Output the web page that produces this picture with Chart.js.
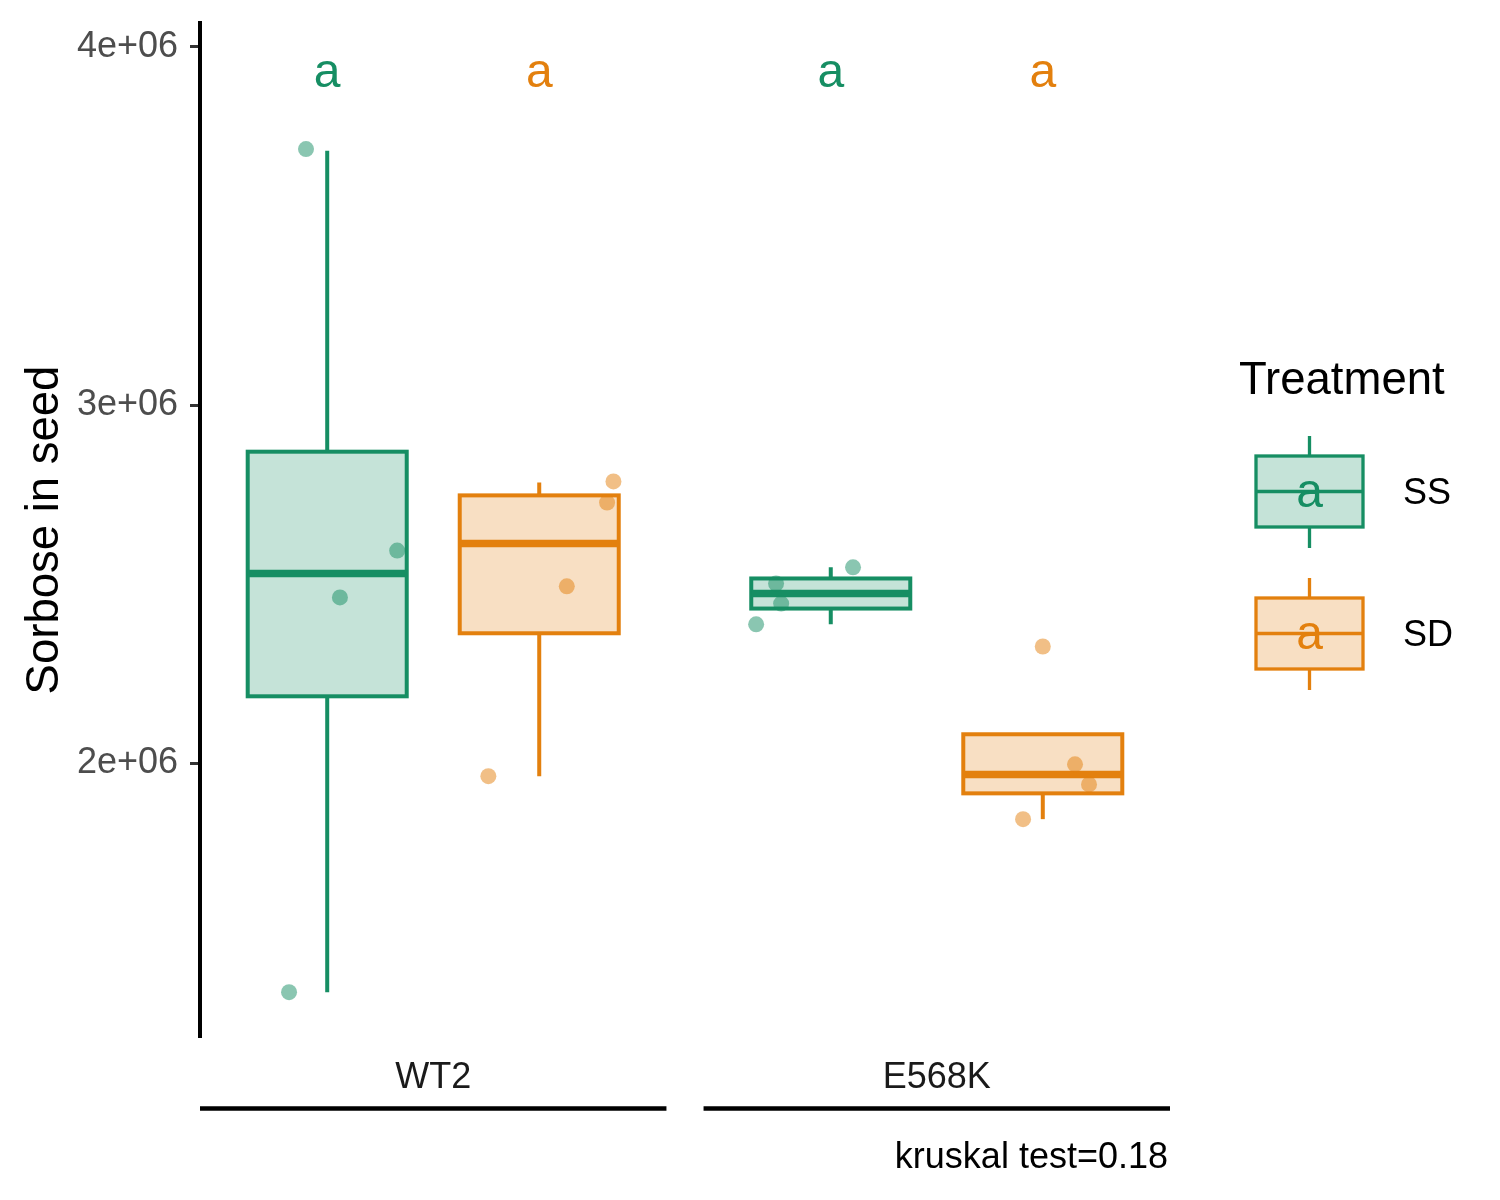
<!DOCTYPE html>
<html>
<head>
<meta charset="utf-8">
<script src="https://cdn.jsdelivr.net/npm/chart.js@4.4.1/dist/chart.umd.min.js"></script>
<style>
  html, body { margin: 0; padding: 0; background: #ffffff; }
  #wrap { width: 1500px; height: 1200px; position: relative; }
</style>
</head>
<body>
<div id="wrap"><canvas id="boxChart"></canvas></div>
<script>
// Dados
const groups = ['WT2', 'E568K'];
const treatments = ['SS', 'SD'];
const treatmentColors = ['#168E63', '#E3800E'];

// caixas na ordem: WT2-SS, WT2-SD, E568K-SS, E568K-SD
const boxMin    = [1.361e6, 1.964e6, 2.388e6, 1.844e6];
const boxQ1     = [2.187e6, 2.363e6, 2.432e6, 1.916e6];
const boxMedian = [2.530e6, 2.614e6, 2.474e6, 1.969e6];
const boxQ3     = [2.870e6, 2.748e6, 2.516e6, 2.081e6];
const boxMax    = [3.710e6, 2.784e6, 2.547e6, 2.081e6];

// pontos individuais (valores) e o jitter horizontal visto na figura
const wt2SS   = [3.715e6, 2.594e6, 2.463e6, 1.361e6];
const wt2SD   = [2.787e6, 2.728e6, 2.494e6, 1.964e6];
const e568kSS = [2.547e6, 2.502e6, 2.446e6, 2.388e6];
const e568kSD = [2.326e6, 1.997e6, 1.941e6, 1.844e6];
const wt2SSJitter   = [-0.10, 0.33, 0.06, -0.18];
const wt2SDJitter   = [0.35, 0.32, 0.13, -0.24];
const e568kSSJitter = [0.105, -0.258, -0.234, -0.352];
const e568kSDJitter = [0.0, 0.152, 0.218, -0.093];

// letras de significância
const letters = ['a', 'a', 'a', 'a'];
const letterValue = 3.925e6;

const yTicks = [2e6, 3e6, 4e6];
const yTickLabels = ['2e+06', '3e+06', '4e+06'];
const caption = 'kruskal test=0.18';

// layout das facetas (unidades do eixo x)
const panelWidth = 2.2;
const panelGap = 0.175;
const boxWidth = 0.75;

function xPos(gi, ti) {
    return gi * (panelWidth + panelGap) + ti + 1;
}

const pointSets = [
    [wt2SS, wt2SSJitter],
    [wt2SD, wt2SDJitter],
    [e568kSS, e568kSSJitter],
    [e568kSD, e568kSDJitter]
];

function alpha(hex, a) {
    const r = parseInt(hex.slice(1, 3), 16);
    const g = parseInt(hex.slice(3, 5), 16);
    const b = parseInt(hex.slice(5, 7), 16);
    return `rgba(${r}, ${g}, ${b}, ${a})`;
}

const datasets = [];
groups.forEach((g, gi) => {
    treatments.forEach((t, ti) => {
        const k = gi * 2 + ti;
        const [vals, jit] = pointSets[k];
        datasets.push({
            label: g + ' ' + t,
            data: vals.map((v, i) => ({ x: xPos(gi, ti) + jit[i], y: v })),
            backgroundColor: alpha(treatmentColors[ti], 0.5),
            borderWidth: 0,
            pointRadius: 8,
        });
    });
});

// caixas desenhadas atrás dos pontos
const boxPlugin = {
    id: 'boxes',
    beforeDatasetsDraw(chart) {
        const { ctx, scales: { x, y } } = chart;
        ctx.save();
        groups.forEach((g, gi) => {
            treatments.forEach((t, ti) => {
                const k = gi * 2 + ti;
                const col = treatmentColors[ti];
                const cx = x.getPixelForValue(xPos(gi, ti));
                const x0 = x.getPixelForValue(xPos(gi, ti) - boxWidth / 2);
                const x1 = x.getPixelForValue(xPos(gi, ti) + boxWidth / 2);
                const yq1 = y.getPixelForValue(boxQ1[k]);
                const yq3 = y.getPixelForValue(boxQ3[k]);
                const ymed = y.getPixelForValue(boxMedian[k]);
                const ymin = y.getPixelForValue(boxMin[k]);
                const ymax = y.getPixelForValue(boxMax[k]);
                ctx.strokeStyle = col;
                ctx.lineWidth = 4;
                // bigodes
                ctx.beginPath();
                ctx.moveTo(cx, yq3); ctx.lineTo(cx, ymax);
                ctx.moveTo(cx, yq1); ctx.lineTo(cx, ymin);
                ctx.stroke();
                // caixa
                ctx.fillStyle = alpha(col, 0.25);
                ctx.fillRect(x0, yq3, x1 - x0, yq1 - yq3);
                ctx.strokeRect(x0, yq3, x1 - x0, yq1 - yq3);
                // mediana
                ctx.lineWidth = 7.5;
                ctx.beginPath();
                ctx.moveTo(x0, ymed); ctx.lineTo(x1, ymed);
                ctx.stroke();
            });
        });
        ctx.restore();
    },
    afterDraw(chart) {
        const { ctx, scales: { x, y } } = chart;
        ctx.save();
        // letras
        ctx.font = '48px "Liberation Sans", Arial, sans-serif';
        ctx.textAlign = 'center';
        ctx.textBaseline = 'middle';
        groups.forEach((g, gi) => {
            treatments.forEach((t, ti) => {
                ctx.fillStyle = treatmentColors[ti];
                ctx.fillText(letters[gi * 2 + ti], x.getPixelForValue(xPos(gi, ti)), y.getPixelForValue(letterValue));
            });
        });
        // faixas das facetas embaixo
        ctx.fillStyle = '#1A1A1A';
        ctx.strokeStyle = '#000000';
        ctx.lineWidth = 4.3;
        ctx.font = '36px "Liberation Sans", Arial, sans-serif';
        ctx.textBaseline = 'alphabetic';
        groups.forEach((g, gi) => {
            const left = x.getPixelForValue(gi * (panelWidth + panelGap) + 0.4);
            const right = x.getPixelForValue(gi * (panelWidth + panelGap) + 0.4 + panelWidth);
            ctx.fillText(g, (left + right) / 2, 1088);
            ctx.beginPath();
            ctx.moveTo(left, 1108.5); ctx.lineTo(right, 1108.5);
            ctx.stroke();
        });
        // legenda
        ctx.fillStyle = '#000000';
        ctx.textAlign = 'left';
        ctx.font = '45.5px "Liberation Sans", Arial, sans-serif';
        ctx.fillText('Treatment', 1239, 394);
        const keyTop = [456, 598];
        treatments.forEach((t, ti) => {
            const col = treatmentColors[ti];
            const top = keyTop[ti];
            const bottom = top + 71;
            const mid = (top + bottom) / 2;
            ctx.strokeStyle = col;
            ctx.lineWidth = 3.3;
            ctx.beginPath();
            ctx.moveTo(1309.5, top - 20); ctx.lineTo(1309.5, top);
            ctx.moveTo(1309.5, bottom); ctx.lineTo(1309.5, bottom + 21);
            ctx.stroke();
            ctx.fillStyle = alpha(col, 0.25);
            ctx.fillRect(1256, top, 107, bottom - top);
            ctx.strokeRect(1256, top, 107, bottom - top);
            ctx.beginPath();
            ctx.moveTo(1256, mid); ctx.lineTo(1363, mid);
            ctx.stroke();
            ctx.fillStyle = col;
            ctx.textAlign = 'center';
            ctx.textBaseline = 'middle';
            ctx.font = '48px "Liberation Sans", Arial, sans-serif';
            ctx.fillText(letters[ti], 1309.5, mid + 2);
            ctx.fillStyle = '#000000';
            ctx.textAlign = 'left';
            ctx.font = '36px "Liberation Sans", Arial, sans-serif';
            ctx.fillText(t, 1403, mid + 3);
        });
        // legenda do teste
        ctx.textAlign = 'right';
        ctx.textBaseline = 'alphabetic';
        ctx.fillStyle = '#000000';
        ctx.font = '36px "Liberation Sans", Arial, sans-serif';
        ctx.fillText(caption, 1168, 1168);
        ctx.restore();
    }
};

const ctx = document.getElementById('boxChart').getContext('2d');

new Chart(ctx, {
    type: 'scatter',
    data: { datasets: datasets },
    plugins: [boxPlugin],
    options: {
        responsive: true,
        maintainAspectRatio: false,
        devicePixelRatio: 1,
        animation: false,
        layout: { padding: { top: 23, bottom: 163, right: 330, left: 0 } },
        plugins: {
            legend: { display: false },
            tooltip: { enabled: false },
        },
        scales: {
            x: {
                type: 'linear',
                display: false,
                min: 0.4,
                max: 0.4 + 2 * panelWidth + panelGap,
            },
            y: {
                min: 1.2357e6,
                max: 4.067e6,
                afterFit: (scale) => {
                    scale.width = 200;
                    scale.paddingTop = 0;
                    scale.paddingBottom = 0;
                },
                afterBuildTicks: (scale) => {
                    scale.ticks = yTicks.map(v => ({ value: v }));
                },
                ticks: {
                    color: '#4D4D4D',
                    padding: 12,
                    font: { family: '"Liberation Sans", Arial, sans-serif', size: 36 },
                    callback: (value) => {
                        const i = yTicks.indexOf(value);
                        return i >= 0 ? yTickLabels[i] : '';
                    },
                },
                grid: {
                    drawOnChartArea: false,
                    drawTicks: true,
                    tickLength: 10,
                    tickWidth: 3,
                    tickColor: '#333333',
                },
                border: { display: true, color: '#000000', width: 4 },
                title: {
                    display: true,
                    text: 'Sorbose in seed',
                    color: '#000000',
                    padding: { top: 18, bottom: 0 },
                    font: { family: '"Liberation Sans", Arial, sans-serif', size: 45.5 },
                },
            }
        }
    }
});
</script>
</body>
</html>
